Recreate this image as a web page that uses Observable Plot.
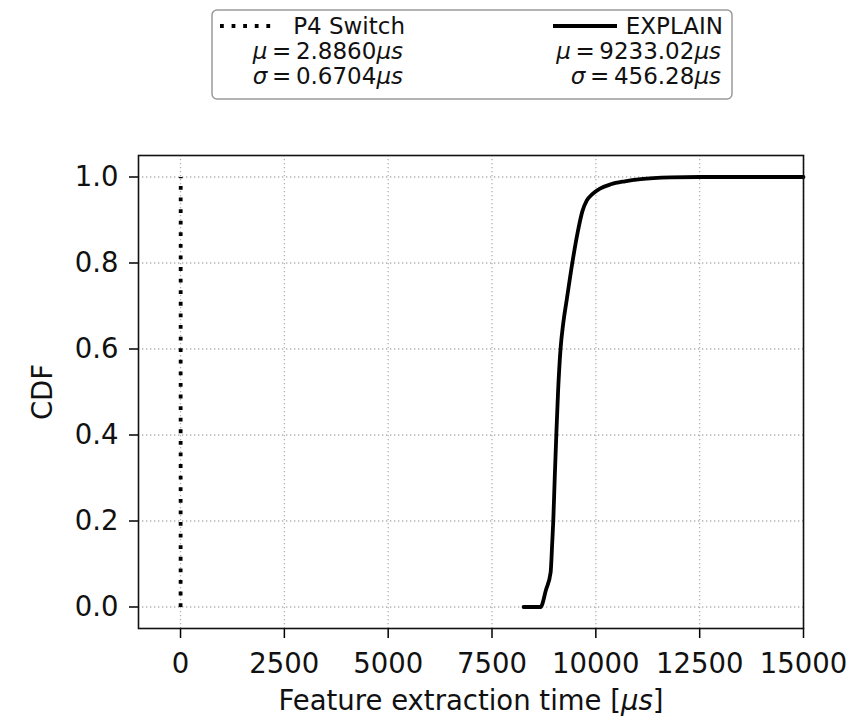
<!DOCTYPE html>
<html><head><meta charset="utf-8">
<script src="https://cdn.jsdelivr.net/npm/d3@7"></script>
<script src="https://cdn.jsdelivr.net/npm/@observablehq/plot@0.6"></script>
<style>
body{margin:0;background:#fff;font-family:"DejaVu Sans",sans-serif;}
#legend{position:relative;width:862px;height:130px;}
#chart svg{display:block;}
</style></head><body>
<div id="legend"></div>
<div id="chart"></div>
<script>
// ---- data ----
const xTicks = [0, 2500, 5000, 7500, 10000, 12500, 15000];
const yTicks = [0, 0.2, 0.4, 0.6, 0.8, 1.0];
const p4Time = [1.0, 1.8, 2.3, 2.7, 3.0, 3.4, 3.9, 4.6, 6.0];
const p4Cdf  = [0, 0.05, 0.2, 0.4, 0.6, 0.8, 0.92, 0.98, 1.0];
const explainTime = [8260, 8670, 8800, 8911, 8950, 8975, 9010, 9048, 9090, 9150, 9215, 9300, 9433, 9560, 9675, 9780, 9915, 10100, 10357, 10700, 11080, 11800, 12500, 15000];
const explainCdf  = [0, 0, 0.04, 0.08, 0.15, 0.2, 0.3, 0.4, 0.5, 0.6, 0.66, 0.715, 0.8, 0.87, 0.92, 0.945, 0.96, 0.973, 0.983, 0.99, 0.995, 0.999, 1.0, 1.0];
const seriesNames = ["P4 Switch", "EXPLAIN"];
const seriesMu = ["2.8860", "9233.02"];
const seriesSigma = ["0.6704", "456.28"];
const xLabel = "Feature extraction time [μs]";
const yLabel = "CDF";

const p4 = p4Time.map((t, i) => ({t, c: p4Cdf[i]}));
const explain = explainTime.map((t, i) => ({t, c: explainCdf[i]}));

const LW = 3.8;
const dotted = `${LW},${(LW*2.05).toFixed(2)}`;
const gridStyle = {stroke: "#b0b0b0", strokeOpacity: 1, strokeWidth: 1.3, strokeDasharray: "1.3,2.7"};

const plot = Plot.plot({
  width: 862, height: 587,
  marginTop: 25, marginBottom: 89, marginLeft: 138, marginRight: 59,
  style: {fontFamily: "DejaVu Sans", fontSize: "27.5px", color: "black", background: "white", overflow: "visible"},
  x: {domain: [-1012, 15000]},
  y: {domain: [-0.05, 1.05]},
  marks: [
    Plot.gridX(xTicks, gridStyle),
    Plot.gridY(yTicks, gridStyle),
    Plot.axisX(xTicks, {tickSize: 10, tickPadding: 14.5, tickFormat: d3.format("d"), strokeWidth: 1.5, fontSize: 27.5, label: null, fill: "#111"}),
    Plot.axisY(yTicks, {tickSize: 9, tickPadding: 11, tickFormat: d3.format(".1f"), strokeWidth: 1.5, fontSize: 27.5, label: null, fill: "#111"}),
    Plot.line(p4, {x: "t", y: "c", stroke: "black", strokeWidth: LW, strokeDasharray: dotted, strokeLinecap: "butt"}),
    Plot.line(explain, {x: "t", y: "c", stroke: "black", strokeWidth: LW, strokeLinejoin: "round", curve: "monotone-x"}),
    Plot.frame({stroke: "#111", strokeWidth: 1.6}),
    Plot.text([xLabel], {frameAnchor: "bottom", lineAnchor: "middle", textAnchor: "middle", dy: 73, fontSize: 27.5, fill: "#111"}),
    Plot.text([yLabel], {frameAnchor: "left", lineAnchor: "middle", textAnchor: "middle", dx: -95, rotate: -90, fontSize: 27.5, fill: "#111"})
  ]
});
document.getElementById("chart").appendChild(plot);

// italic μs in x label (mathtext style)
d3.select(plot).selectAll("text").filter(function() { return this.textContent === xLabel; }).each(function() {
  const t = d3.select(this);
  t.text(null);
  t.append("tspan").text("Feature extraction time [");
  t.append("tspan").attr("font-style", "italic").text("μs");
  t.append("tspan").text("]");
});

// ---- legend ----
const lg = d3.select("#legend").append("svg").attr("width", 862).attr("height", 130)
  .style("font-family", "DejaVu Sans").style("position", "absolute").style("left", 0).style("top", 0);
lg.append("rect").attr("x", 212).attr("y", 10).attr("width", 520).attr("height", 89).attr("rx", 5)
  .attr("fill", "white").attr("stroke", "#9a9a9a").attr("stroke-width", 1.5);
const layout = [
  {x1: 220, x2: 274, end: 405, dash: dotted},
  {x1: 553, x2: 617, end: 723, dash: null}
];
seriesNames.forEach((name, i) => {
  const L = layout[i];
  const ln = lg.append("line").attr("x1", L.x1).attr("x2", L.x2).attr("y1", 26).attr("y2", 26)
    .attr("stroke", "black").attr("stroke-width", LW);
  if (L.dash) ln.attr("stroke-dasharray", L.dash);
  const g = lg.append("g").attr("font-size", 23).attr("fill", "#111").attr("text-anchor", "end");
  g.append("text").attr("x", L.end).attr("y", 34).text(name);
  const m = g.append("text").attr("x", L.end - 2).attr("y", 59);
  m.append("tspan").attr("font-style", "italic").text("μ");
  m.append("tspan").text("\u2009=\u2009" + seriesMu[i]);
  m.append("tspan").attr("font-style", "italic").text("μs");
  const s = g.append("text").attr("x", L.end - 2).attr("y", 84);
  s.append("tspan").attr("font-style", "italic").text("σ");
  s.append("tspan").text("\u2009=\u2009" + seriesSigma[i]);
  s.append("tspan").attr("font-style", "italic").text("μs");
});
</script>
</body></html>
